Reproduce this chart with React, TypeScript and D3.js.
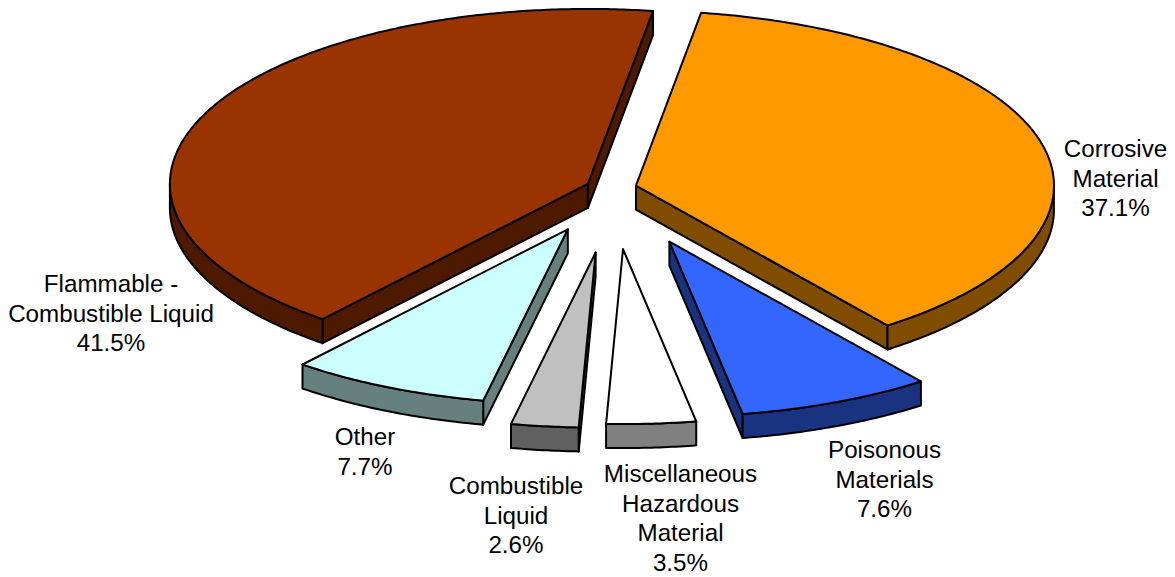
import React from "react";
import * as d3 from "d3";

const categories = ["Corrosive Material", "Poisonous Materials", "Miscellaneous Hazardous Material", "Combustible Liquid", "Other", "Flammable - Combustible Liquid"];
const shares = [37.1, 7.6, 3.5, 2.6, 7.7, 41.5];
const topColors = ["#ff9900", "#3366ff", "#ffffff", "#c0c0c0", "#ccffff", "#993300"];
const sideColors = ["#804d00", "#1a3380", "#808080", "#606060", "#668080", "#4d1a00"];
// how far each slice is pulled out along x and y, as a fraction of the radius
const pullX = [0.059, 0.139, 0.028, -0.0375, -0.104, -0.056];
const pullY = [-0.016, 0.304, 0.346, 0.366, 0.233, -0.026];
const labelLines = [
  ["Corrosive", "Material", "37.1%"],
  ["Poisonous", "Materials", "7.6%"],
  ["Miscellaneous", "Hazardous", "Material", "3.5%"],
  ["Combustible", "Liquid", "2.6%"],
  ["Other", "7.7%"],
  ["Flammable -", "Combustible Liquid", "41.5%"],
];
const labelX = [1115.5, 884.5, 680.5, 516, 365, 111];
const labelY = [157, 458, 482, 494, 445, 292];

const W = 1175, H = 577;
const CX = 611.3, CY = 188.5, RX = 418, RY = 175, DEPTH = 24;
const FONT = 24.2, LINE = 29.6;
const VIEW_SKEW = 0.0185; // the source's 3-D projection bends the right half slightly

const sx = d3.scaleLinear().domain([-1, 1]).range([CX - RX, CX + RX]);
const sy = d3.scaleLinear().domain([-1, 1]).range([CY + RY, CY - RY]); // +1 = up

const START = (8.8 * Math.PI) / 180;
const pieGen = d3.pie<number>().sort(null).startAngle(START).endAngle(START + 2 * Math.PI);
const arcs = pieGen(shares);
const line = d3.line<[number, number]>();
const view = (a: number) => a + VIEW_SKEW * Math.max(Math.sin(a), 0);

const rimPoints = (a0: number, a1: number, i: number, drop: number): [number, number][] => {
  const n = Math.max(2, Math.ceil(Math.abs(a1 - a0) / 0.01));
  return d3.range(n + 1).map((k) => {
    const a = view(a0 + ((a1 - a0) * k) / n);
    return [sx(Math.sin(a) + pullX[i]), sy(Math.cos(a) - pullY[i]) + drop] as [number, number];
  });
};
const apex = (i: number, drop: number): [number, number] => [sx(pullX[i]), sy(-pullY[i]) + drop];
const closed = (pts: [number, number][]) => line(pts) + "Z";

// clip a slice's rim to the front half of the ellipse
const frontRange = (a0: number, a1: number): [number, number] | null => {
  const lo = Math.max(a0, Math.PI / 2);
  const hi = Math.min(a1, (3 * Math.PI) / 2);
  return lo < hi ? [lo, hi] : null;
};

const wallVisible = (a: number, side: "start" | "end") => {
  // a radial wall faces the viewer when the slice body lies above it on the screen
  const s = Math.sin(a);
  return side === "start" ? s < 0 : s > 0;
};

export default function App() {
  const order = [5, 0, 4, 1, 3, 2];
  return (
    <svg width={W} height={H} style={{ position: "absolute", left: 0, top: 0 }} fontFamily="'Liberation Sans', Arial, sans-serif">
      {order.map((i) => {
        const { startAngle: a0, endAngle: a1 } = arcs[i];
        const rng = frontRange(a0, a1);
        const common = { fill: sideColors[i], stroke: "#000", strokeWidth: 2, strokeLinejoin: "round" as const };
        const wallPath = (a: number) => {
          const e = rimPoints(a, a, i, 0)[0];
          const e2 = rimPoints(a, a, i, DEPTH)[0];
          return closed([apex(i, 0), e, e2, apex(i, DEPTH)]);
        };
        return (
          <g key={categories[i]}>
            {wallVisible(a0, "start") && <path d={wallPath(a0)} {...common} />}
            {wallVisible(a1, "end") && <path d={wallPath(a1)} {...common} />}
            {rng && (
              <path
                d={closed([...rimPoints(rng[0], rng[1], i, 0), ...rimPoints(rng[1], rng[0], i, DEPTH)])}
                {...common}
              />
            )}
            <path
              d={closed([apex(i, 0), ...rimPoints(a0, a1, i, 0)])}
              fill={topColors[i]}
              stroke="#000"
              strokeWidth={2}
              strokeLinejoin="round"
            />
          </g>
        );
      })}
      {labelLines.map((lines, i) => (
        <text key={categories[i]} textAnchor="middle" fontSize={FONT} fill="#000">
          {lines.map((t, k) => (
            <tspan key={k} x={labelX[i]} y={labelY[i] + k * LINE}>
              {t}
            </tspan>
          ))}
        </text>
      ))}
    </svg>
  );
}
